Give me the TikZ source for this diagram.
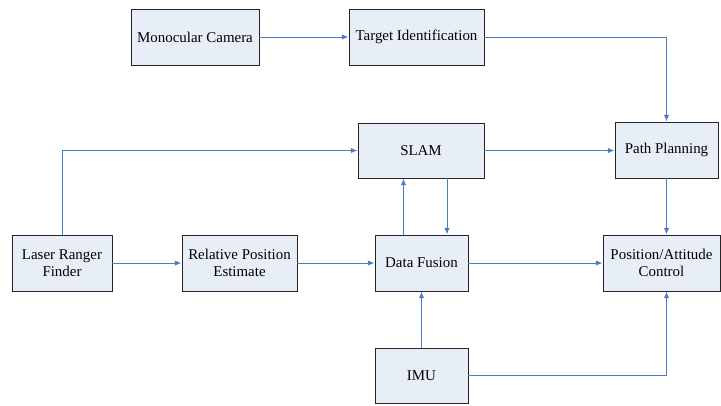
\documentclass[tikz,border=0pt]{standalone}
\usepackage{fontspec}
\setmainfont{Liberation Serif}
\usetikzlibrary{arrows.meta,shadows}
\definecolor{boxfill}{HTML}{E8EEF8}
\definecolor{linkblue}{HTML}{4A7EC2}
\begin{document}
\begin{tikzpicture}[x=0.75pt,y=-0.75pt,>={Latex[length=5pt,width=4pt]},font=\fontsize{11.2}{12.8}\selectfont]
	\tikzset{block/.style={draw=black!85,line width=0.7pt,fill=boxfill,inner sep=0pt,
			minimum height=42pt,align=center,
			drop shadow={shadow xshift=0.7pt,shadow yshift=-0.7pt,fill=black!45,opacity=1}},
		link/.style={->,draw=linkblue,line width=0.75pt}}
	\useasboundingbox (0,0) rectangle (721,405);
	% top row
	\node[block,minimum width=96pt] (cam) at (195,37) {Monocular Camera};
	\node[block,minimum width=101.25pt] (target) at (416.5,37) {Target Identification};
	% middle row
	\node[block,minimum width=94.5pt,minimum height=41.25pt] (slam) at (421,150.5) {SLAM};
	\node[block,minimum width=77.25pt] (path) at (666.5,150) {Path Planning};
	% lower row
	\node[block,minimum width=75pt] (laser) at (62,263) {Laser Ranger\\Finder};
	\node[block,minimum width=86.25pt] (rel) at (239.5,263) {Relative Position\\Estimate};
	\node[block,minimum width=69.75pt] (fusion) at (421.5,263) {Data Fusion};
	\node[block,minimum width=87.75pt] (pos) at (661.5,263) {Position/Attitude\\Control};
	\node[block,minimum width=69.75pt,minimum height=41.25pt] (imu) at (421.5,375.5) {IMU};
	% connectors
	\draw[link] (cam) -- (target);
	\draw[link] (target.east) -| (path.north);
	\draw[link] (laser.north) |- (slam.west);
	\draw[link] (slam.east) -- (slam.east -| path.west);
	\draw[link] (path.south) -- (path.south |- pos.north);
	\draw[link] ([xshift=-13.5pt]fusion.north) -- ([xshift=-13.5pt]fusion.north |- slam.south);
	\draw[link] ([xshift=19.5pt]slam.south) -- ([xshift=19.5pt]slam.south |- fusion.north);
	\draw[link] (laser) -- (rel);
	\draw[link] (rel) -- (fusion);
	\draw[link] (fusion) -- (pos);
	\draw[link] (imu) -- (fusion);
	\draw[link] (imu.east) -| (path.south |- pos.south);
\end{tikzpicture}
\end{document}
